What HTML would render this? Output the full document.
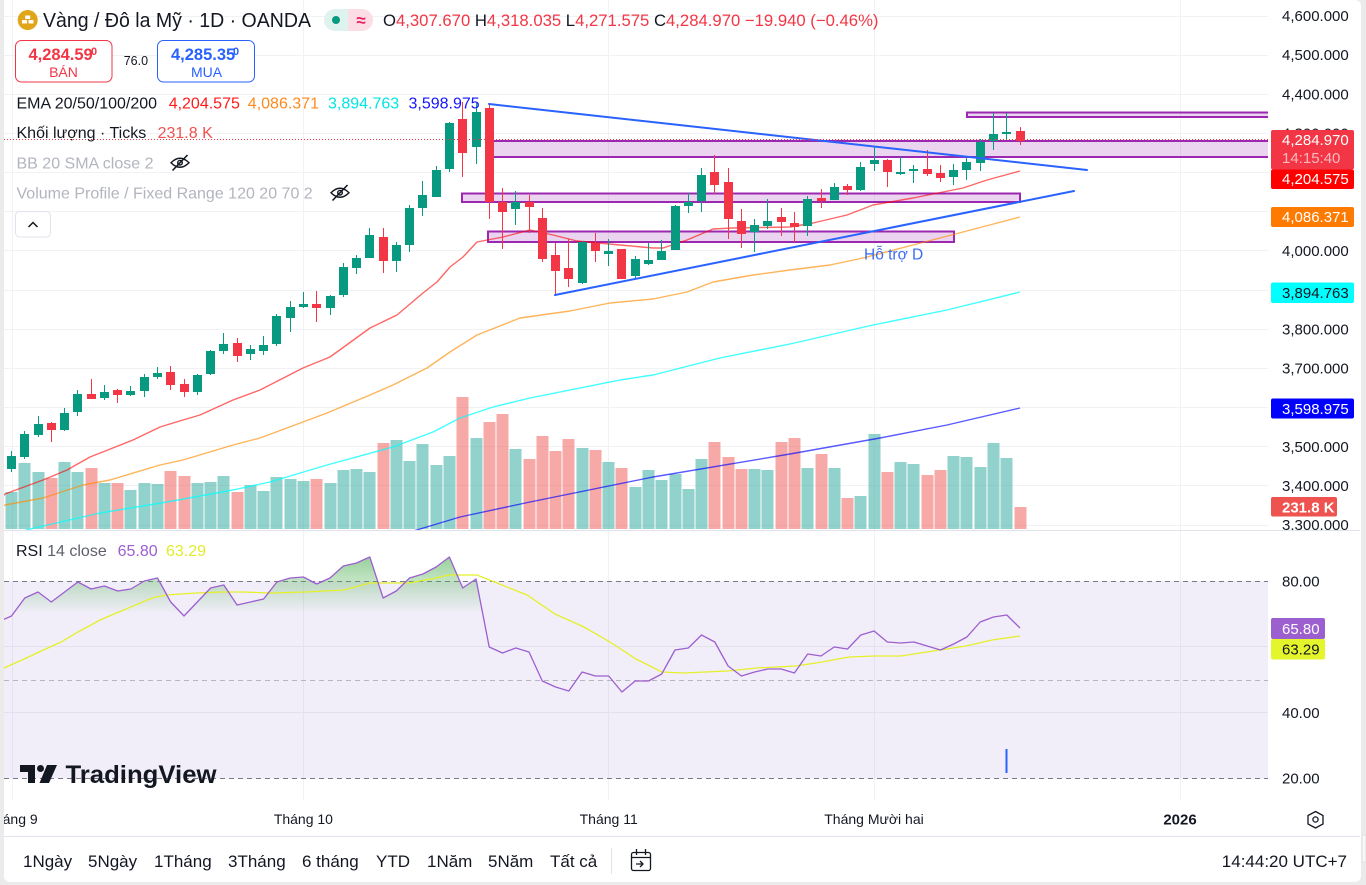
<!DOCTYPE html>
<html><head><meta charset="utf-8"><style>
html,body{margin:0;padding:0}
body{width:1366px;height:885px;background:#ebebeb;overflow:hidden;position:relative;font-family:"Liberation Sans","DejaVu Sans",sans-serif}
#panel{position:absolute;left:4px;top:0;width:1357px;height:882px;background:#fff;border-radius:0 6px 6px 6px}
svg{position:absolute;left:0;top:0}
svg text{font-family:"Liberation Sans","DejaVu Sans",sans-serif}
</style></head><body>
<div id="panel"></div>
<svg width="1366" height="885" viewBox="0 0 1366 885">
<defs>
<clipPath id="cm"><rect x="4" y="0" width="1264" height="530"/></clipPath>
<clipPath id="cr"><rect x="4" y="531" width="1264" height="269"/></clipPath>
<clipPath id="ca"><rect x="1268" y="0" width="92" height="530"/></clipPath>
<clipPath id="ct"><rect x="4" y="800" width="1356" height="36"/></clipPath>
<linearGradient id="gg" gradientUnits="userSpaceOnUse" x1="0" y1="515" x2="0" y2="614"><stop offset="0" stop-color="#4caf50" stop-opacity="1"/><stop offset="1" stop-color="#4caf50" stop-opacity="0"/></linearGradient>
</defs>

<!-- grid -->
<g stroke="#f0f2f5" stroke-width="1">
<path d="M4,16.5H1268M4,55.5H1268M4,94.5H1268M4,133.5H1268M4,172.5H1268M4,211.5H1268M4,250.5H1268M4,290.5H1268M4,329.5H1268M4,368.5H1268M4,407.5H1268M4,446.5H1268M4,485.5H1268M4,525.5H1268"/>
<path d="M12.5,0V800M303.5,0V800M608.5,0V800M874.5,0V800M1180.5,0V800"/>
</g>

<g clip-path="url(#cm)">
<!-- volume -->
<path fill="rgba(38,166,154,0.5)" d="M5.5,492h12V529h-12ZM18.5,463h12V529h-12ZM32.5,472h12V529h-12ZM58.5,462h12V529h-12ZM71.5,472h12V529h-12ZM98.5,483h12V529h-12ZM124.5,490h12V529h-12ZM138.5,483h12V529h-12ZM151.5,484h12V529h-12ZM191.5,483h12V529h-12ZM204.5,482h12V529h-12ZM217.5,476h12V529h-12ZM244.5,485h12V529h-12ZM257.5,491h12V529h-12ZM270.5,477h12V529h-12ZM284.5,479h12V529h-12ZM297.5,481h12V529h-12ZM324.5,483h12V529h-12ZM337.5,470h12V529h-12ZM350.5,469h12V529h-12ZM363.5,472h12V529h-12ZM390.5,440h12V529h-12ZM403.5,461h12V529h-12ZM416.5,444h12V529h-12ZM430.5,465h12V529h-12ZM443.5,456h12V529h-12ZM470.5,438h12V529h-12ZM509.5,449h12V529h-12ZM576.5,448h12V529h-12ZM602.5,462h12V529h-12ZM629.5,487h12V529h-12ZM642.5,470h12V529h-12ZM655.5,480h12V529h-12ZM669.5,474h12V529h-12ZM682.5,489h12V529h-12ZM695.5,459h12V529h-12ZM748.5,469h12V529h-12ZM761.5,470h12V529h-12ZM801.5,468h12V529h-12ZM828.5,468h12V529h-12ZM854.5,496h12V529h-12ZM868.5,434h12V529h-12ZM894.5,462h12V529h-12ZM907.5,464h12V529h-12ZM947.5,456h12V529h-12ZM960.5,457h12V529h-12ZM974.5,467h12V529h-12ZM987.5,443h12V529h-12ZM1000.5,458h12V529h-12Z"/>
<path fill="rgba(239,83,80,0.5)" d="M45.5,478h12V529h-12ZM85.5,468h12V529h-12ZM111.5,483h12V529h-12ZM164.5,471h12V529h-12ZM178.5,476h12V529h-12ZM231.5,492h12V529h-12ZM310.5,479h12V529h-12ZM377.5,443h12V529h-12ZM456.5,397h12V529h-12ZM483.5,422h12V529h-12ZM496.5,414h12V529h-12ZM523.5,459h12V529h-12ZM536.5,436h12V529h-12ZM549.5,451h12V529h-12ZM562.5,439h12V529h-12ZM589.5,450h12V529h-12ZM615.5,468h12V529h-12ZM708.5,442h12V529h-12ZM722.5,457h12V529h-12ZM735.5,469h12V529h-12ZM775.5,442h12V529h-12ZM788.5,438h12V529h-12ZM815.5,454h12V529h-12ZM841.5,498h12V529h-12ZM881.5,472h12V529h-12ZM921.5,475h12V529h-12ZM934.5,470h12V529h-12ZM1014.5,507h12V529h-12Z"/>

<!-- rectangles -->
<g fill="rgba(156,39,176,0.2)" stroke="#9c27b0" stroke-width="2">
<rect x="967" y="112.5" width="310" height="4.5"/>
<rect x="493" y="141" width="784" height="16"/>
<rect x="462" y="193.5" width="558" height="8.5"/>
<rect x="488" y="231.5" width="466" height="10.5"/>
</g>

<!-- EMAs -->
<g fill="none" stroke-width="1.4" stroke-linejoin="round">
<polyline stroke="#0000ff" stroke-opacity="0.65" points="400,535 420,529 460,517 530,502 653,477 790,454 880,438 947,425 1020,408"/>
<polyline stroke="#00ffff" stroke-opacity="0.75" points="0,538 30,529 100,513 167,502 233,490 270,482 327,465 393,447 433,432 460,418 493,407 530,398 620,380 653,375 720,358 790,344 873,325 947,310 1020,292"/>
<polyline stroke="#ff8c00" stroke-opacity="0.65" points="0,508 5,505 43,498 83,485 110,480 160,465 183,460 233,445 260,438 327,413 370,395 393,385 427,368 450,352 477,335 520,318 570,311 610,303 653,299 687,292 713,282 753,275 790,270 830,265 863,258 913,245 963,232 1020,217"/>
<polyline stroke="#ff0000" stroke-opacity="0.6" points="0,499 5,494 43,480 67,470 90,457 133,440 160,427 183,420 200,415 233,400 260,390 303,368 330,357 370,328 397,315 423,293 437,282 450,267 463,257 477,242 503,237 530,230 553,235 577,241 620,245 653,248 663,248 687,240 713,229 733,228 790,227 813,223 847,215 873,205 913,198 963,188 987,180 1020,171"/>
</g>

<!-- candles -->
<path stroke="#089981" stroke-width="1" fill="none" d="M11.5,451V472M24.5,431V459M38.5,416V437M64.5,408V431M77.5,390V416M104.5,385V400M130.5,386V396M144.5,374V397M157.5,367V379M197.5,374V395M210.5,350V375M223.5,333V354M250.5,345V360M263.5,336V355M276.5,314V346M290.5,301V332M303.5,292V308M330.5,295V315M343.5,263V297M356.5,255V274M369.5,228V258M396.5,242V272M409.5,205V252M422.5,181V216M436.5,166V197M449.5,122V172M476.5,103V164M515.5,191V225M582.5,241V284M608.5,239V266M635.5,256V278M648.5,243V265M661.5,240V260M675.5,205V250M688.5,193V213M701.5,168V212M754.5,219V252M767.5,199V229M807.5,196V236M834.5,183V200M860.5,162V191M874.5,147V171M900.5,157V175M913.5,165V183M953.5,164V185M966.5,158V180M980.5,139V171M993.5,113V150M1006.5,113V139"/>
<path fill="#089981" d="M7,456h9V469h-9ZM20,434h9V457h-9ZM34,424h9V435h-9ZM60,413h9V430h-9ZM73,394h9V412h-9ZM100,392h9V398h-9ZM126,391h9V395h-9ZM140,377h9V391h-9ZM153,373h9V377h-9ZM193,375h9V392h-9ZM206,351h9V374h-9ZM219,344h9V351h-9ZM246,349h9V354h-9ZM259,345h9V351h-9ZM272,316h9V344h-9ZM286,307h9V318h-9ZM299,304h9V307h-9ZM326,296h9V308h-9ZM339,267h9V295h-9ZM352,258h9V268h-9ZM365,235h9V258h-9ZM392,245h9V261h-9ZM405,208h9V245h-9ZM418,195h9V208h-9ZM432,170h9V197h-9ZM445,123h9V169h-9ZM472,112h9V147h-9ZM511,202h9V209h-9ZM578,242h9V283h-9ZM604,251h9V254h-9ZM631,259h9V276h-9ZM644,260h9V264h-9ZM657,251h9V260h-9ZM671,206h9V250h-9ZM684,202h9V206h-9ZM697,175h9V201h-9ZM750,225h9V232h-9ZM763,221h9V226h-9ZM803,199h9V226h-9ZM830,187h9V200h-9ZM856,167h9V190h-9ZM870,160h9V164h-9ZM896,172h9V174h-9ZM909,169h9V171h-9ZM949,170h9V177h-9ZM962,162h9V170h-9ZM976,142h9V163h-9ZM989,134h9V141h-9ZM1002,132h9V134h-9Z"/>
<path stroke="#f23645" stroke-width="1" fill="none" d="M51.5,422V442M91.5,379V399M117.5,389V403M170.5,366V390M184.5,379V397M237.5,338V362M316.5,291V322M383.5,228V273M462.5,102V177M489.5,104V219M502.5,188V249M529.5,195V233M542.5,208V262M555.5,243V296M568.5,239V287M595.5,233V262M714.5,155V194M728.5,168V239M741.5,209V248M781.5,208V236M794.5,212V242M821.5,189V208M847.5,184V195M887.5,159V187M927.5,150V176M940.5,165V182M1020.5,127V145"/>
<path fill="#f23645" d="M47,423h9V430h-9ZM87,394h9V399h-9ZM113,390h9V395h-9ZM166,372h9V385h-9ZM180,384h9V392h-9ZM233,343h9V356h-9ZM312,304h9V308h-9ZM379,237h9V261h-9ZM458,119h9V153h-9ZM485,108h9V202h-9ZM498,202h9V212h-9ZM525,202h9V207h-9ZM538,218h9V259h-9ZM551,255h9V271h-9ZM564,268h9V279h-9ZM591,243h9V251h-9ZM617,249h9V279h-9ZM710,172h9V185h-9ZM724,182h9V219h-9ZM737,221h9V234h-9ZM777,217h9V222h-9ZM790,223h9V227h-9ZM817,198h9V201h-9ZM843,186h9V190h-9ZM883,160h9V172h-9ZM923,169h9V174h-9ZM936,173h9V178h-9ZM1016,131h9V141h-9Z"/>

<!-- trend lines -->
<g stroke="#2962ff" stroke-width="2" stroke-linecap="round">
<line x1="489" y1="104" x2="1087" y2="170"/>
<line x1="555" y1="295" x2="1074" y2="191"/>
</g>
<!-- price line -->
<line x1="4" y1="139.5" x2="1268" y2="139.5" stroke="#f23645" stroke-width="1" stroke-dasharray="1 2"/>
<text x="864" y="259.5" font-size="15.5" fill="#3b6af0">Hỗ trợ D</text>
</g>

<!-- pane separators -->
<line x1="4" y1="530.5" x2="1360" y2="530.5" stroke="#e0e3eb"/>

<!-- RSI pane -->
<g clip-path="url(#cr)">
<rect x="4" y="581" width="1264" height="197.5" fill="rgba(126,87,194,0.1)"/>
<path d="M4,646.5H1268M4,712.5H1268" stroke="#e4e1ee" stroke-width="1"/>
<path d="M4,581.5H1268M4,778.5H1268" stroke="#787b86" stroke-width="1" stroke-dasharray="5 4"/>
<path d="M4,680.5H1268" stroke="#b5b7bf" stroke-width="1" stroke-dasharray="5 4"/>
<polygon fill="url(#gg)" points="-2,680 -2,622 11.5,616 24.8,598 38,592 51.3,602 64.6,592 77.9,582 91.1,589 104.4,586 117.7,591 130.9,589 144.2,581 157.5,578 170.7,602 184,616 197.3,602 210.6,588 223.8,585 237.1,605 250.4,602 263.6,599 276.9,582 290.2,578 303.4,577 316.7,584 330,578 343.3,566 356.5,563 369.8,557 383.1,598 396.3,591 409.6,578 422.9,574 436.1,567 449.4,557 462.7,588 476,579 489.2,647 502.5,653 515.8,648 529,652 542.3,680 1020,680"/>
<polyline fill="none" stroke="#e4f02a" stroke-width="1.3" points="0,669 4,668 22,660 39,652 61,642 78,632 100,620 126,609 152,598 166,595 196,593 222,592 244,592 270,593 305,592 344,590 370,583 409,583 436,578 449,575 477,575 492,581 527,595 555,614 584,627 610,642 636,659 662,672 683,673 727,671 757,668 796,666 822,662 849,657 875,656 901,656 940,650 966,646 992,640 1020,636"/>
<polyline fill="none" stroke="#9c5fcf" stroke-width="1.3" stroke-linejoin="round" points="-2,622 11.5,616 24.8,598 38,592 51.3,602 64.6,592 77.9,582 91.1,589 104.4,586 117.7,591 130.9,589 144.2,581 157.5,578 170.7,602 184,616 197.3,602 210.6,588 223.8,585 237.1,605 250.4,602 263.6,599 276.9,582 290.2,578 303.4,577 316.7,584 330,578 343.3,566 356.5,563 369.8,557 383.1,598 396.3,591 409.6,578 422.9,574 436.1,567 449.4,557 462.7,588 476,579 489.2,647 502.5,653 515.8,648 529,652 542.3,681 555.6,687 568.8,691 582.1,672 595.4,676 608.7,676 621.9,692 635.2,681 648.5,681 661.7,674 675,650 688.3,648 701.5,635 714.8,642 728.1,666 741.4,676 754.6,672 767.9,669 781.2,669 794.4,673 807.7,654 821,656 834.2,647 847.5,649 860.8,635 874.1,631 887.3,642 900.6,643 913.9,642 927.1,646 940.4,650 953.7,644 966.9,637 980.2,622 993.5,617 1006.8,615 1020,628"/>
<line x1="1006.5" y1="749" x2="1006.5" y2="773" stroke="#2962ff" stroke-width="2"/>
<!-- TradingView logo -->
<g fill="#131722">
<path d="M20,765h15v18h-7v-11h-8Z"/>
<circle cx="40.5" cy="768.5" r="3.5"/>
<path d="M47,765h10l-8,18h-9.5Z"/>
</g>
<text x="65.5" y="783" font-size="25" font-weight="bold" fill="#131722" textLength="151" lengthAdjust="spacingAndGlyphs">TradingView</text>
</g>

<!-- Header -->
<circle cx="27.7" cy="20" r="10" fill="#e0a519"/>
<g fill="#fff"><rect x="22" y="20" width="5" height="3.5" rx="0.5"/><rect x="28.5" y="20" width="5" height="3.5" rx="0.5"/><rect x="25.2" y="15.5" width="5" height="3.5" rx="0.5"/></g>
<text x="43" y="27" font-size="20" fill="#131722" textLength="268" lengthAdjust="spacingAndGlyphs">Vàng / Đô la Mỹ · 1D · OANDA</text>
<path d="M335,9h13v22h-13a11,11 0 0 1 0,-22Z" fill="#dff3ee"/>
<path d="M348,9h14a11,11 0 0 1 0,22h-14Z" fill="#fcdde6"/>
<circle cx="336" cy="20" r="4" fill="#089981"/>
<text x="361" y="26" font-size="17" fill="#e91e63" text-anchor="middle" font-weight="bold">≈</text>
<text x="383" y="26" font-size="16.7" fill="#f23645"><tspan fill="#131722">O</tspan>4,307.670 <tspan fill="#131722">H</tspan>4,318.035 <tspan fill="#131722">L</tspan>4,271.575 <tspan fill="#131722">C</tspan>4,284.970 −19.940 (−0.46%)</text>

<rect x="15.5" y="40.5" width="96.5" height="41.5" rx="6" fill="#fff" stroke="#f23645"/>
<text x="28.5" y="60" font-size="16.5" font-weight="bold" fill="#f23645">4,284.59</text>
<text x="91" y="55" font-size="11" font-weight="bold" fill="#f23645">0</text>
<text x="63.5" y="77" font-size="14" fill="#f23645" text-anchor="middle">BÁN</text>
<text x="123.7" y="65" font-size="12.5" fill="#131722">76.0</text>
<rect x="157.5" y="40.5" width="97" height="41.5" rx="6" fill="#fff" stroke="#2962ff"/>
<text x="171" y="60" font-size="16.5" font-weight="bold" fill="#2962ff">4,285.35</text>
<text x="233" y="55" font-size="11" font-weight="bold" fill="#2962ff">0</text>
<text x="206.5" y="77" font-size="14" fill="#2962ff" text-anchor="middle">MUA</text>

<text x="16.5" y="108.5" font-size="16" fill="#131722">EMA 20/50/100/200</text>
<text x="168.7" y="108.5" font-size="16" fill="#ff1a1a">4,204.575</text>
<text x="247.8" y="108.5" font-size="16" fill="#ff8a1c">4,086.371</text>
<text x="328" y="108.5" font-size="16" fill="#00e5e5">3,894.763</text>
<text x="408.5" y="108.5" font-size="16" fill="#1414ff">3,598.975</text>
<text x="16.5" y="138" font-size="16" fill="#131722">Khối lượng · Ticks</text>
<text x="157.6" y="138" font-size="16" fill="#ef5350">231.8 K</text>
<text x="16.5" y="168.5" font-size="16" fill="#b2b5be">BB 20 SMA close 2</text>
<text x="16.5" y="198.5" font-size="16" fill="#b2b5be">Volume Profile / Fixed Range 120 20 70 2</text>
<g fill="none" stroke="#131722" stroke-width="1.4">
<path d="M171,162.7q9,-9 18,0q-9,9 -18,0Z"/><circle cx="180" cy="162.7" r="2.3"/><line x1="172.5" y1="170.5" x2="187.5" y2="155" stroke-width="1.6"/>
<path d="M331,192.7q9,-9 18,0q-9,9 -18,0Z"/><circle cx="340" cy="192.7" r="2.3"/><line x1="332.5" y1="200.5" x2="347.5" y2="185" stroke-width="1.6"/>
</g>
<rect x="15.5" y="211.5" width="35" height="25.5" rx="4" fill="#fff" stroke="#e0e3eb"/>
<path d="M28.5,227L33,222.5L37.5,227" fill="none" stroke="#131722" stroke-width="1.5"/>

<text x="16" y="556" font-size="16" fill="#131722">RSI <tspan fill="#5d606b">14 close</tspan></text>
<text x="117.6" y="556" font-size="16" fill="#9c5fcf">65.80</text>
<text x="166" y="556" font-size="16" fill="#e2ed2a">63.29</text>

<!-- price axis -->
<g clip-path="url(#ca)" font-size="15" fill="#131722">
<text x="1282" y="21">4,600.000</text>
<text x="1282" y="60">4,500.000</text>
<text x="1282" y="99.5">4,400.000</text>
<text x="1282" y="138.5">4,300.000</text>
<text x="1282" y="217">4,100.000</text>
<text x="1282" y="256">4,000.000</text>
<text x="1282" y="295">3,900.000</text>
<text x="1282" y="334.5">3,800.000</text>
<text x="1282" y="373.5">3,700.000</text>
<text x="1282" y="452">3,500.000</text>
<text x="1282" y="491">3,400.000</text>
<text x="1282" y="530">3,300.000</text>
<rect x="1271" y="130" width="83" height="39.5" rx="2" fill="#f23645"/>
<text x="1282" y="145" fill="#fff">4,284.970</text>
<text x="1282" y="163" fill="#fbb9bf">14:15:40</text>
<rect x="1271" y="169.5" width="83" height="19.5" rx="2" fill="#ff0000"/>
<text x="1282" y="184" fill="#fff">4,204.575</text>
<rect x="1271" y="207" width="83" height="20" rx="2" fill="#ff7a00"/>
<text x="1282" y="222" fill="#fff">4,086.371</text>
<rect x="1271" y="282.5" width="83" height="20.5" rx="2" fill="#00ffff"/>
<text x="1282" y="298" fill="#131722">3,894.763</text>
<rect x="1271" y="398.5" width="83" height="20" rx="2" fill="#0000ff"/>
<text x="1282" y="414" fill="#fff">3,598.975</text>
<rect x="1271" y="497" width="66" height="19.5" rx="2" fill="#ef5350"/>
<text x="1282" y="512.5" fill="#fff" font-weight="bold">231.8 K</text>
</g>

<!-- RSI axis -->
<g font-size="15" fill="#131722">
<text x="1282" y="586.5">80.00</text>
<text x="1282" y="718">40.00</text>
<text x="1282" y="783.5">20.00</text>
<rect x="1271" y="618" width="54" height="21" rx="2" fill="#9c5fcf"/>
<text x="1282" y="634" fill="#fff">65.80</text>
<rect x="1271" y="639" width="54" height="20.5" rx="2" fill="#e4f52c"/>
<text x="1282" y="654.5" fill="#131722">63.29</text>
</g>

<!-- time axis -->
<g clip-path="url(#ct)" font-size="14" fill="#131722" text-anchor="middle">
<text x="12" y="824">Tháng 9</text>
<text x="303.4" y="824">Tháng 10</text>
<text x="608.7" y="824">Tháng 11</text>
<text x="874" y="824">Tháng Mười hai</text>
<text x="1180" y="824.5" font-weight="bold" font-size="15">2026</text>
</g>
<g fill="none" stroke="#131722" stroke-width="1.3">
<path d="M1315.5,811.5l7.5,4v8.5l-7.5,4l-7.5,-4v-8.5Z"/><circle cx="1315.5" cy="819.5" r="2.6"/>
</g>
<line x1="4" y1="836.5" x2="1360" y2="836.5" stroke="#e0e3eb"/>

<!-- bottom toolbar -->
<g font-size="17" fill="#131722">
<text x="23" y="867">1Ngày</text>
<text x="88" y="867">5Ngày</text>
<text x="154" y="867">1Tháng</text>
<text x="228" y="867">3Tháng</text>
<text x="302" y="867">6 tháng</text>
<text x="376" y="867">YTD</text>
<text x="427" y="867">1Năm</text>
<text x="488" y="867">5Năm</text>
<text x="550" y="867">Tất cả</text>
<text x="1347" y="867" text-anchor="end">14:44:20 UTC+7</text>
</g>
<line x1="611.5" y1="848" x2="611.5" y2="874" stroke="#e0e3eb"/>
<g fill="none" stroke="#131722" stroke-width="1.3">
<rect x="631.5" y="852.5" width="19" height="18" rx="2"/>
<path d="M631.5,857.5h19M636.5,849v6M645.5,849v6M636,864h7M640,861l3,3l-3,3"/>
</g>
<rect x="1362" y="835" width="4" height="27" rx="1" fill="#f7f7f7" stroke="#e0e0e0"/>
</svg>
</body></html>
